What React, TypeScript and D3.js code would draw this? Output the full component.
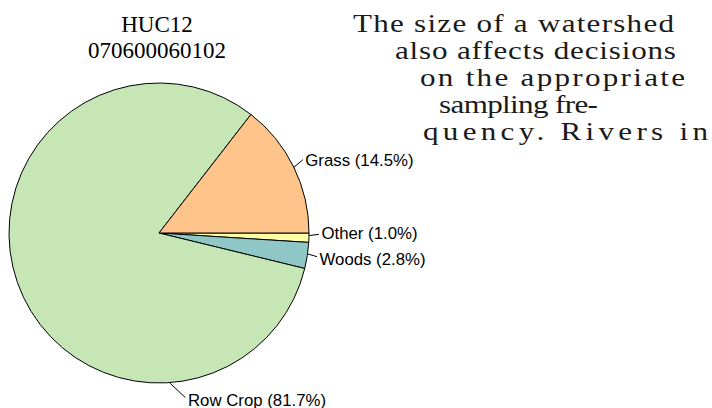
import { arc, pie, PieArcDatum } from "d3";

// land use shares (%) for the watershed, clockwise from 3 o'clock
const categories = ["Other", "Woods", "Row Crop", "Grass"];
const shares = [1.0, 2.8, 81.7, 14.5];
const sliceColors = ["#ffffaa", "#8fc7c7", "#c6e6b6", "#ffc489"];

const titleLines = ["HUC12", "070600060102"];

const passage = [
  "The size of a watershed",
  "also affects decisions",
  "on the appropriate",
  "sampling fre-",
  "quency. Rivers in",
];

const width = 712;
const height = 408;
const cx = 159;
const cy = 233;
const radius = 150;

// where each leader line touches the pie (deg clockwise from 3 o'clock) and how it runs out
const labelLayout: Record<string, { angle: number; dx: number; dy: number; textDy: number }> = {
  Grass: { angle: -26, dx: 9, dy: -7.5, textDy: 6.5 },
  Other: { angle: 1, dx: 10, dy: -1.3, textDy: 4.5 },
  Woods: { angle: 8, dx: 9.5, dy: 2.8, textDy: 8.5 },
  "Row Crop": { angle: 86, dx: 16, dy: 15, textDy: 8.6 },
};

// text column wraps around the chart: left and right edge of each line
const passageX = [
  [353, 674],
  [395, 676],
  [420, 685],
  [439, 598],
  [423, 708],
];
const passageBaseline = 32;
const passageLeading = 27;
const passageStretch = 1.22; // book face is wider than Times

export default function App() {
  const slices = pie<number>()
    .sort(null)
    .startAngle(Math.PI / 2)
    .endAngle(Math.PI / 2 + 2 * Math.PI)(shares);

  const arcGen = arc<PieArcDatum<number>>().innerRadius(0).outerRadius(radius);

  return (
    <svg
      width={width}
      height={height}
      style={{ position: "absolute", left: 0, top: 0, background: "#fff" }}
    >
      <g fontFamily="'Liberation Serif', 'Times New Roman', serif" fontSize={23} textAnchor="middle">
        {titleLines.map((t, i) => (
          <text key={t} x={157} y={31.5 + i * 26.7}>
            {t}
          </text>
        ))}
      </g>

      <g transform={`translate(${cx},${cy})`}>
        {slices.map((s, i) => (
          <path
            key={categories[i]}
            d={arcGen(s) as string}
            fill={sliceColors[i]}
            stroke="#000"
            strokeWidth={1}
            strokeLinejoin="round"
          />
        ))}
        {slices.map((s, i) => {
          const name = categories[i];
          const lay = labelLayout[name];
          const a = (lay.angle * Math.PI) / 180;
          const x0 = radius * Math.cos(a);
          const y0 = radius * Math.sin(a);
          const x1 = x0 + lay.dx;
          const y1 = y0 + lay.dy;
          return (
            <g key={name + "-label"}>
              <line x1={x0} y1={y0} x2={x1} y2={y1} stroke="#000" strokeWidth={1} />
              <text
                x={x1 + 2.5}
                y={y1 + lay.textDy}
                fontFamily="'Liberation Sans', Arial, sans-serif"
                fontSize={16.8}
                fill="#000"
              >
                {`${name} (${s.data.toFixed(1)}%)`}
              </text>
            </g>
          );
        })}
      </g>

      <g fontFamily="'Liberation Serif', 'Times New Roman', serif" fontSize={25.5} fill="#1a1a1a">
        {passage.map((line, i) => (
          <text
            key={line}
            transform={`translate(${passageX[i][0]},${passageBaseline + i * passageLeading}) scale(${passageStretch},1)`}
            textLength={(passageX[i][1] - passageX[i][0]) / passageStretch}
            lengthAdjust="spacing"
          >
            {line}
          </text>
        ))}
      </g>
    </svg>
  );
}
